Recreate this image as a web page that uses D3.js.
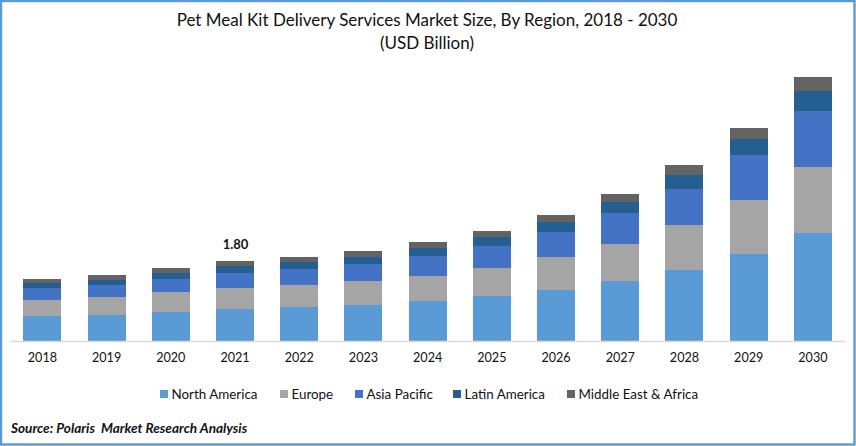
<!DOCTYPE html>
<html>
<head>
<meta charset="utf-8">
<script src="https://cdnjs.cloudflare.com/ajax/libs/d3/7.8.5/d3.min.js"></script>
<style>
html,body{margin:0;padding:0;background:#fff;overflow:hidden}
svg{display:block}
text{font-family:Lato,"Open Sans",sans-serif;fill:#111}
</style>
</head>
<body>
<svg id="chart" width="856" height="446"></svg>
<script>
const years = [2018,2019,2020,2021,2022,2023,2024,2025,2026,2027,2028,2029,2030];
const northAmerica = [0.56,0.59,0.65,0.72,0.77,0.81,0.90,1.01,1.15,1.35,1.60,1.96,2.43];
const europe       = [0.36,0.41,0.45,0.47,0.50,0.54,0.56,0.63,0.74,0.83,1.01,1.22,1.49];
const asiaPacific  = [0.27,0.27,0.29,0.34,0.36,0.38,0.45,0.50,0.56,0.70,0.81,1.01,1.26];
const latinAmerica = [0.11,0.11,0.14,0.16,0.16,0.16,0.18,0.20,0.23,0.25,0.32,0.36,0.45];
const middleEast   = [0.09,0.11,0.11,0.11,0.11,0.14,0.14,0.14,0.16,0.18,0.23,0.25,0.32];
const seriesNames  = ["North America","Europe","Asia Pacific","Latin America","Middle East & Africa"];
const seriesColors = ["#5b9bd5","#a5a5a5","#4472c4","#255e91","#636363"];
const seriesValues = [northAmerica,europe,asiaPacific,latinAmerica,middleEast];
const titleLines   = ["Pet Meal Kit Delivery Services Market Size, By Region, 2018 - 2030","(USD Billion)"];
const sourceText   = "Source: Polaris  Market Research Analysis";
const labelledYear = 2021, labelText = "1.80";

const W = 856, H = 446, baseY = 341;
const svg = d3.select("#chart");

const table = years.map((y,i)=>{
  const r = {year:y};
  seriesNames.forEach((n,k)=>r[n]=seriesValues[k][i]);
  return r;
});
const stacked = d3.stack().keys(seriesNames)(table);

const x = d3.scaleBand().domain(years).range([10.3,845]).paddingInner(0.408).paddingOuter(0.204);
const y = d3.scaleLinear().domain([0,6]).range([baseY,75]);
const color = d3.scaleOrdinal().domain(seriesNames).range(seriesColors);

// frame
svg.append("rect").attr("x",1).attr("y",1).attr("width",W-2.5).attr("height",H-2.5)
  .attr("fill","#fff").attr("stroke","#5b9bd5").attr("stroke-width",2.4);

// bars
svg.append("g").selectAll("g").data(stacked).join("g")
  .attr("fill",d=>color(d.key))
  .selectAll("rect").data(d=>d).join("rect")
  .attr("x",d=>x(d.data.year))
  .attr("width",x.bandwidth())
  .attr("y",d=>y(d[1]))
  .attr("height",d=>y(d[0])-y(d[1]))
  .attr("shape-rendering","crispEdges");

// axis
const axis = svg.append("g").attr("transform",`translate(0,${baseY})`)
  .call(d3.axisBottom(x).tickSize(0).tickPadding(12.5));
axis.select(".domain").attr("stroke","#d9d9d9").attr("stroke-width",1.6);
axis.selectAll("text").attr("font-size",12.6).style("font-family","Lato,sans-serif").attr("fill","#111");

// data label
const topOf = stacked[stacked.length-1][years.indexOf(labelledYear)][1];
svg.append("text").attr("x",x(labelledYear)+x.bandwidth()/2+0.5).attr("y",y(topOf)-12)
  .attr("text-anchor","middle").attr("font-size",13).attr("font-weight",700).text(labelText);

// title
svg.selectAll(".title").data(titleLines).join("text").attr("class","title")
  .attr("x",427).attr("y",(d,i)=>25.5+i*23)
  .attr("text-anchor","middle").attr("font-size",17).text(d=>d);

// legend
const legendX = [160,280,355,453,567];
const legend = svg.append("g").selectAll("g").data(seriesNames).join("g")
  .attr("transform",(d,i)=>`translate(${legendX[i]},390)`);
legend.append("rect").attr("width",8).attr("height",8).attr("fill",d=>color(d));
legend.append("text").attr("x",11.5).attr("y",9).attr("font-size",13.4).text(d=>d);

// source
svg.append("text").attr("x",11).attr("y",433).attr("font-size",13.6)
  .attr("font-weight",700).attr("font-style","italic").style("white-space","pre").text(sourceText);
</script>
</body>
</html>
